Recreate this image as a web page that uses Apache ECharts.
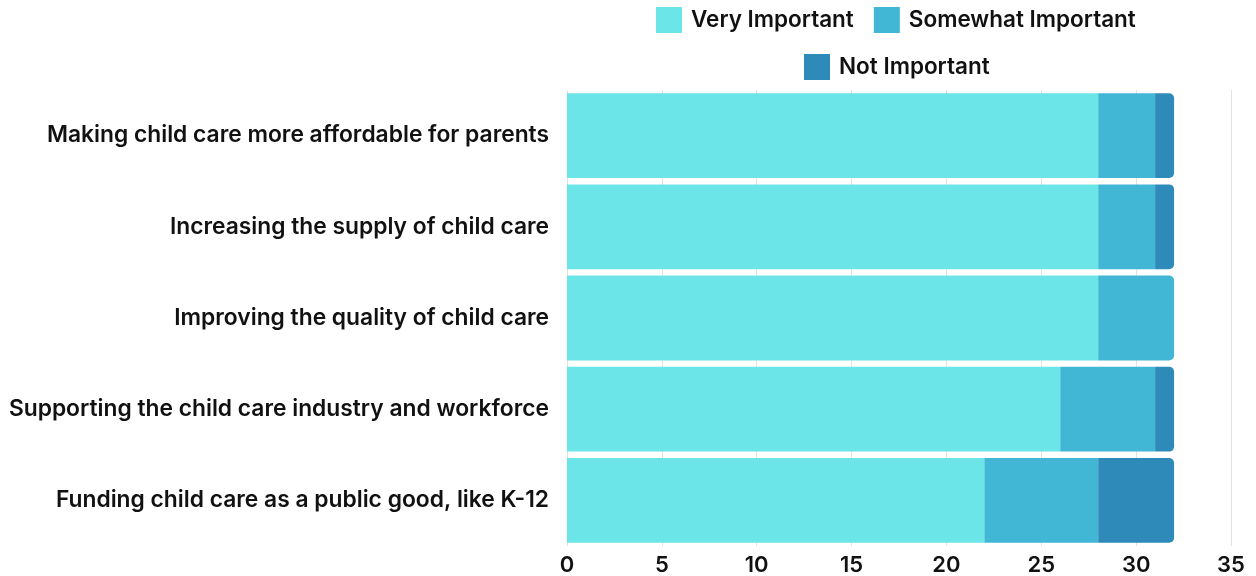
<!DOCTYPE html>
<html>
<head>
<meta charset="utf-8">
<script src="https://cdn.jsdelivr.net/npm/echarts@6/dist/echarts.min.js"></script>
<style>
  html, body { margin: 0; padding: 0; background: #ffffff; }
  #chart { width: 1256px; height: 576px; }
</style>
</head>
<body>
<div id="chart"></div>
<script>
// Survey priorities: count of responses per importance level
const categories = [
  'Making child care more affordable for parents',
  'Increasing the supply of child care',
  'Improving the quality of child care',
  'Supporting the child care industry and workforce',
  'Funding child care as a public good, like K-12'
];
const veryImportant = [28, 28, 28, 26, 22];
const somewhatImportant = [3, 3, 4, 5, 6];
const notImportant = [1, 1, 0, 1, 4];
const xTicks = [0, 5, 10, 15, 20, 25, 30, 35];

const seriesNames = ['Very Important', 'Somewhat Important', 'Not Important'];
const colors = ['#6be5e8', '#42b6d5', '#2e8ab8'];
const stacks = [veryImportant, somewhatImportant, notImportant];

const font = 'Inter, "Noto Sans", sans-serif';

// round only the right end of the last non-empty segment in each row
function withRounding(values, idx) {
  return values.map((v, i) => {
    let last = -1;
    stacks.forEach((s, k) => { if (s[i] > 0) last = k; });
    return {
      value: v,
      itemStyle: { borderRadius: last === idx ? [0, 5, 5, 0] : 0 }
    };
  });
}

const chart = echarts.init(document.getElementById('chart'));
const legendText = {
  fontFamily: font, fontSize: 22.5, fontWeight: 600, color: '#111',
  padding: [0, 0, 0, 4]
};

chart.setOption({
  animation: false,
  color: colors,
  legend: [
    {
      data: seriesNames.slice(0, 2),
      top: 7,
      left: 656,
      padding: 0,
      itemWidth: 26,
      itemHeight: 26,
      itemGap: 20,
      icon: 'rect',
      textStyle: legendText
    },
    {
      data: seriesNames.slice(2),
      top: 54,
      left: 804,
      padding: 0,
      itemWidth: 26,
      itemHeight: 26,
      icon: 'rect',
      textStyle: legendText
    }
  ],
  grid: { left: 567, right: 25, top: 90, bottom: 28 },
  xAxis: {
    type: 'value',
    min: 0,
    max: 35,
    interval: 5,
    axisLine: { show: false },
    axisTick: { show: false },
    splitLine: { show: true, lineStyle: { color: '#e2e2e2', width: 1 } },
    axisLabel: {
      margin: 8,
      fontFamily: font,
      fontSize: 22,
      fontWeight: 600,
      color: '#111',
      formatter: v => xTicks.includes(v) ? String(v) : ''
    }
  },
  yAxis: {
    type: 'category',
    data: categories,
    inverse: true,
    axisLine: { show: false },
    axisTick: { show: false },
    splitLine: { show: false },
    axisLabel: {
      margin: 18,
      fontFamily: font,
      fontSize: 22.8,
      fontWeight: 600,
      color: '#111'
    }
  },
  series: stacks.map((vals, k) => ({
    name: seriesNames[k],
    type: 'bar',
    stack: 'total',
    barCategoryGap: '7%',
    itemStyle: { color: colors[k] },
    data: withRounding(vals, k)
  }))
});
</script>
</body>
</html>
